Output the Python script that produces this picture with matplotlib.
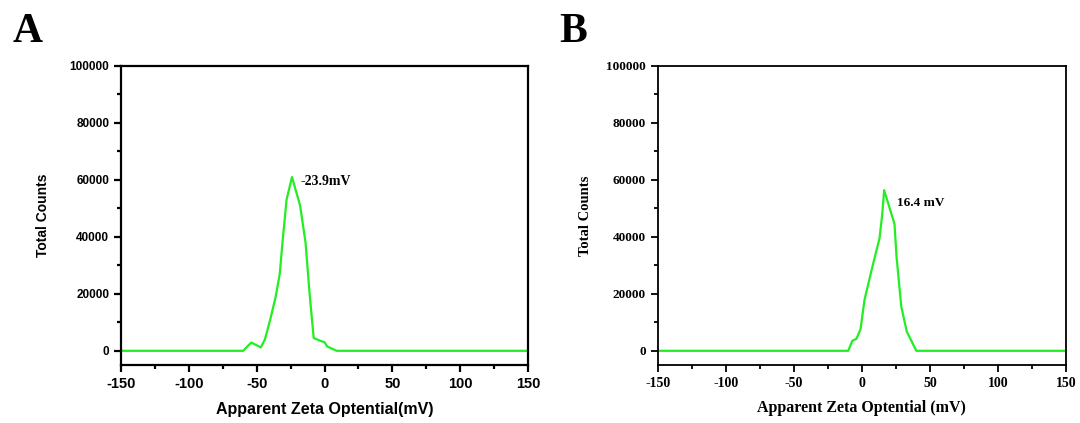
import matplotlib
matplotlib.use("Agg")
import matplotlib.pyplot as plt
from matplotlib.ticker import MultipleLocator

plt.rcParams["axes.unicode_minus"] = False

# panel A: apparent zeta potential distribution
zeta_a = [-150, -60, -54, -47, -44, -40, -36, -33, -31, -28, -24, -18, -14, -11,
          -8, -3, 0, 2, 9, 150]
counts_a = [0, 0, 2900, 1200, 3900, 11000, 19000, 27000, 38000, 53000, 61000,
            51000, 38000, 20000, 4500, 3500, 3000, 1500, 0, 0]

# panel B
zeta_b = [-150, -10, -7, -4, -1, 2, 8, 13, 15, 16.4, 24, 25.5, 29, 33, 36, 40, 150]
counts_b = [0, 0, 3500, 4200, 7500, 18000, 30000, 39500, 48000, 56400, 44500,
            33000, 15500, 6800, 3900, 0, 0]

peak_a = "-23.9mV"
peak_b = "16.4 mV"

x_ticks = [-150, -100, -50, 0, 50, 100, 150]
y_ticks = [0, 20000, 40000, 60000, 80000, 100000]

GREEN = "#22ee22"

fig = plt.figure(figsize=(10.8, 4.23), dpi=100)
ax_a = fig.add_axes([0.112, 0.137, 0.377, 0.707])
ax_b = fig.add_axes([0.609, 0.137, 0.378, 0.707])


def style_axes(ax, family, xfs, yfs, lw):
    ax.set_xlim(-150, 150)
    ax.set_ylim(-5000, 100000)
    ax.set_xticks(x_ticks)
    ax.set_yticks(y_ticks)
    ax.xaxis.set_minor_locator(MultipleLocator(25))
    ax.yaxis.set_minor_locator(MultipleLocator(10000))
    ax.tick_params(which="major", direction="out", length=5, width=lw)
    ax.tick_params(which="minor", direction="out", length=3, width=lw)
    ax.tick_params(axis="x", labelsize=xfs)
    ax.tick_params(axis="y", labelsize=yfs)
    for lab in ax.get_xticklabels() + ax.get_yticklabels():
        lab.set_family(family)
        lab.set_fontweight("bold")
    for sp in ax.spines.values():
        sp.set_linewidth(lw)


# A
ax_a.plot(zeta_a, counts_a, color=GREEN, lw=1.6)
style_axes(ax_a, "Liberation Sans", 10.5, 8.5, 1.6)
ax_a.set_xlabel("Apparent Zeta Optential(mV)", family="Liberation Sans",
                fontweight="bold", fontsize=11.5, labelpad=8)
ax_a.set_ylabel("Total Counts", family="Liberation Sans", fontweight="bold",
                fontsize=10, labelpad=14)
ax_a.text(-18, 59600, peak_a, family="Liberation Serif", fontweight="bold",
          fontsize=10, va="center", ha="left")

# B
ax_b.plot(zeta_b, counts_b, color=GREEN, lw=1.6)
style_axes(ax_b, "Liberation Serif", 10, 9.5, 1.3)
ax_b.set_xlabel("Apparent Zeta Optential (mV)", family="Liberation Serif",
                fontweight="bold", fontsize=11.5, labelpad=7)
ax_b.set_ylabel("Total Counts", family="Liberation Serif", fontweight="bold",
                fontsize=10.5, labelpad=10)
ax_b.text(25.7, 51900, peak_b, family="Liberation Serif", fontweight="bold",
          fontsize=9.5, va="center", ha="left")

fig.text(0.012, 0.9, "A", family="Liberation Serif", fontweight="bold", fontsize=30)
fig.text(0.518, 0.9, "B", family="Liberation Serif", fontweight="bold", fontsize=30)

fig.savefig("out.png", dpi=100)
